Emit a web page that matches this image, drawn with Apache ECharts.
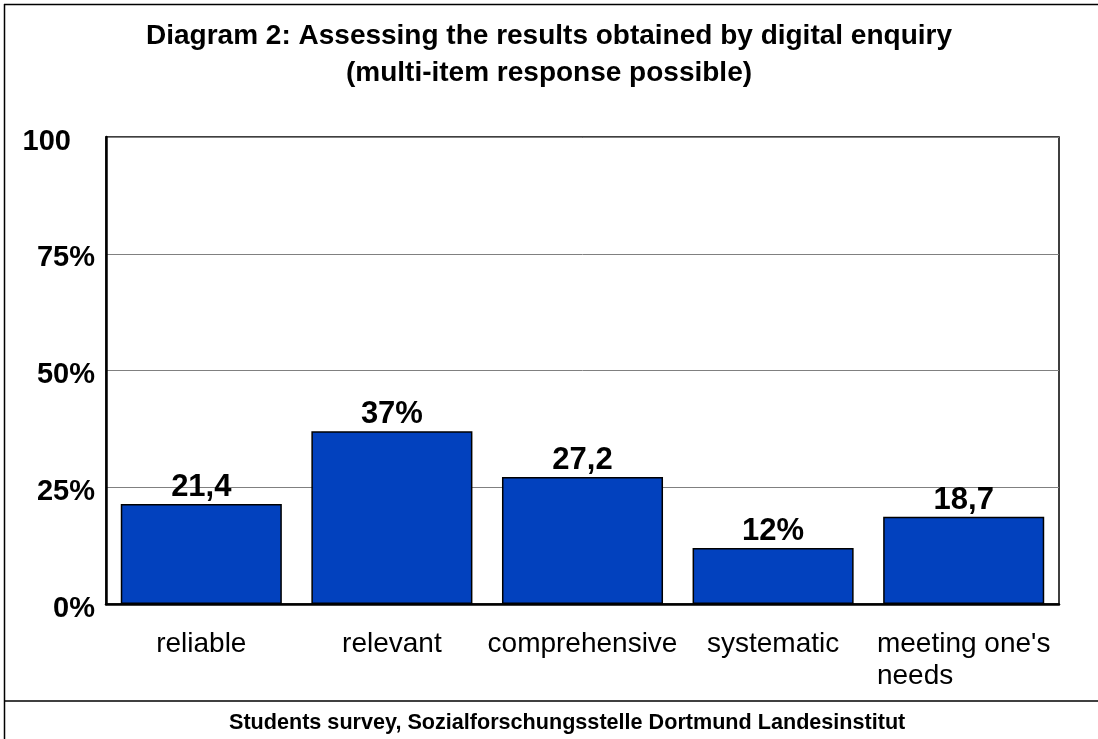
<!DOCTYPE html>
<html>
<head>
<meta charset="utf-8">
<script src="https://cdn.jsdelivr.net/npm/echarts@6/dist/echarts.min.js"></script>
<style>
  html, body { margin: 0; padding: 0; background: #fff; }
  #chart { width: 1098px; height: 739px; }
</style>
</head>
<body>
<div id="chart"></div>
<script>
// data
const categories = ['reliable', 'relevant', 'comprehensive', 'systematic', "meeting one's needs"];
const shares = [21.4, 37, 27.2, 12, 18.7];
const shareLabels = ['21,4', '37%', '27,2', '12%', '18,7'];
const yTickLabels = { 0: '0%', 25: '25%', 50: '50%', 75: '75%', 100: '100' };

const FONT = '"Liberation Sans", Arial, sans-serif';

const chart = echarts.init(document.getElementById('chart'));

chart.setOption({
  animation: false,
  backgroundColor: '#fff',
  textStyle: { fontFamily: FONT },
  title: [
    {
      text: 'Diagram 2: Assessing the results obtained by digital enquiry\n(multi-item response possible)',
      left: 'center',
      top: 13,
      textStyle: { fontFamily: FONT, fontSize: 28, fontWeight: 'bold', color: '#000', lineHeight: 37 }
    },
    {
      text: 'Students survey, Sozialforschungsstelle Dortmund Landesinstitut',
      left: 224,
      top: 707,
      textStyle: { fontFamily: FONT, fontSize: 21.6, fontWeight: 'bold', color: '#000' }
    }
  ],
  graphic: [
    { type: 'line', shape: { x1: 4, y1: 4.5, x2: 1098, y2: 4.5 }, style: { stroke: '#000', lineWidth: 1.5 } },
    { type: 'line', shape: { x1: 4.5, y1: 4, x2: 4.5, y2: 739 }, style: { stroke: '#000', lineWidth: 1.5 } },
    { type: 'line', shape: { x1: 4, y1: 701, x2: 1098, y2: 701 }, style: { stroke: '#000', lineWidth: 1.5 } }
  ],
  grid: {
    left: 106,
    right: 39,
    top: 137,
    bottom: 135,
    show: true,
    borderColor: '#000',
    borderWidth: 1.5,
    backgroundColor: '#fff'
  },
  xAxis: {
    type: 'category',
    data: categories,
    axisLine: { lineStyle: { color: '#000', width: 2.5 } },
    axisTick: { show: false },
    axisLabel: {
      interval: 0,
      margin: 24,
      fontSize: 28,
      color: '#000',
      lineHeight: 32,
      formatter: function (v) {
        if (v === "meeting one's needs") return "{a|meeting one's}\n{b|needs}";
        return v;
      },
      rich: {
        a: { fontSize: 28, fontFamily: FONT, color: '#000', lineHeight: 32 },
        b: { fontSize: 28, fontFamily: FONT, color: '#000', lineHeight: 32, align: 'left' }
      }
    }
  },
  yAxis: {
    type: 'value',
    min: 0,
    max: 100,
    interval: 25,
    axisLine: { show: true, lineStyle: { color: '#000', width: 2.5 } },
    axisTick: { show: false },
    splitLine: { lineStyle: { color: '#808080', width: 1 } },
    axisLabel: {
      margin: 11,
      fontSize: 29,
      fontWeight: 'bold',
      color: '#000',
      padding: [9, 0, 0, 0],
      formatter: function (v) {
        return v === 100 ? '{h|' + yTickLabels[v] + '}' : yTickLabels[v];
      },
      rich: {
        h: { fontSize: 29, fontWeight: 'bold', fontFamily: FONT, color: '#000', padding: [0, 24, 0, 0] }
      }
    }
  },
  series: [{
    type: 'bar',
    data: shares,
    barCategoryGap: '15.5%',
    itemStyle: { color: '#0241BE', borderColor: '#000', borderWidth: 1.5 },
    label: {
      show: true,
      position: 'top',
      distance: 1,
      fontSize: 31,
      fontWeight: 'bold',
      color: '#000',
      fontFamily: FONT,
      formatter: function (p) { return shareLabels[p.dataIndex]; }
    }
  }]
});
</script>
</body>
</html>
